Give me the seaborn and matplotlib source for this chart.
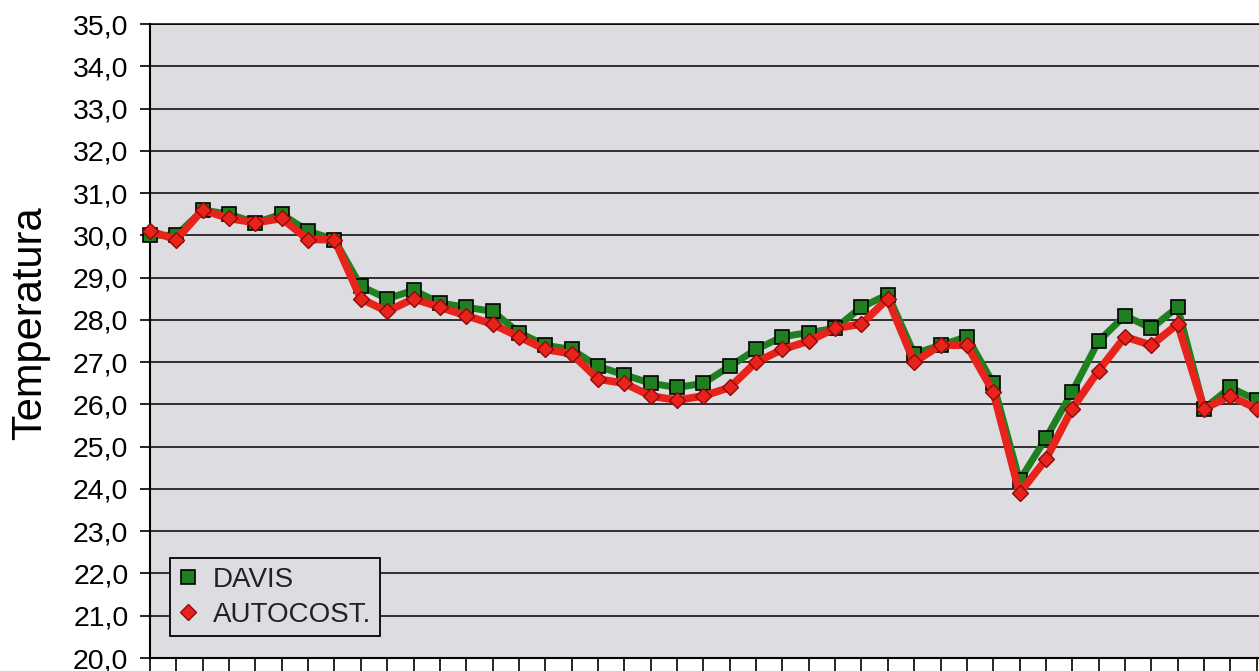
import matplotlib
matplotlib.use("Agg")
import matplotlib.pyplot as plt
import seaborn as sns
import pandas as pd
from matplotlib.ticker import FuncFormatter, MultipleLocator
from matplotlib.lines import Line2D

# ---- data ----
points = list(range(43))
series_names = ["DAVIS", "AUTOCOST."]
davis = [30.0, 30.0, 30.6, 30.5, 30.3, 30.5, 30.1, 29.9, 28.8, 28.5,
         28.7, 28.4, 28.3, 28.2, 27.7, 27.4, 27.3, 26.9, 26.7, 26.5,
         26.4, 26.5, 26.9, 27.3, 27.6, 27.7, 27.8, 28.3, 28.6, 27.2,
         27.4, 27.6, 26.5, 24.2, 25.2, 26.3, 27.5, 28.1, 27.8, 28.3,
         25.9, 26.4, 26.1]
autocost = [30.1, 29.9, 30.6, 30.4, 30.3, 30.4, 29.9, 29.9, 28.5, 28.2,
            28.5, 28.3, 28.1, 27.9, 27.6, 27.3, 27.2, 26.6, 26.5, 26.2,
            26.1, 26.2, 26.4, 27.0, 27.3, 27.5, 27.8, 27.9, 28.5, 27.0,
            27.4, 27.4, 26.3, 23.9, 24.7, 25.9, 26.8, 27.6, 27.4, 27.9,
            25.9, 26.2, 25.9]
y_min, y_max = 20, 35
y_label = "Temperatura"

# ---- style ----
bg = "#dddde1"
green = "#1f8020"
red = "#e8231b"
darkred = "#8c0a0a"

sns.set_theme(style="white")
plt.rcParams["font.family"] = ["Liberation Sans", "DejaVu Sans"]

W, H = 1259, 671
fig = plt.figure(figsize=(W / 100, H / 100), dpi=100)
fig.patch.set_facecolor("white")
ax = fig.add_axes([150 / W, 13 / H, 1 - 150 / W, 634 / H])
ax.set_facecolor(bg)

df = pd.DataFrame({"x": points, "davis": davis, "auto": autocost})

sns.lineplot(data=df, x="x", y="davis", ax=ax, color=green, linewidth=5,
             marker="s", markersize=10.5, markerfacecolor=green,
             markeredgecolor="black", markeredgewidth=1.2,
             clip_on=False, zorder=3)
sns.lineplot(data=df, x="x", y="auto", ax=ax, color=red, linewidth=5.5,
             marker="D", markersize=8, markerfacecolor=red,
             markeredgecolor=darkred, markeredgewidth=1.0,
             clip_on=False, zorder=4)

ax.set_xlim(0, (W - 150) / 26.35)
ax.set_ylim(y_min, y_max)
ax.yaxis.set_major_locator(MultipleLocator(1))
ax.xaxis.set_major_locator(MultipleLocator(1))
ax.yaxis.set_major_formatter(FuncFormatter(lambda v, p: f"{v:.1f}".replace(".", ",")))
ax.set_xlabel("")
ax.tick_params(axis="x", bottom=True, direction="out", length=9, width=1.2,
               color="black", labelbottom=False)
ax.tick_params(axis="y", left=True, direction="out", length=7.5, width=1.2,
               color="black", pad=8, labelsize=20.5, labelcolor="black")

ax.grid(axis="y", color="black", linewidth=1.1)
ax.grid(axis="x", visible=False)
ax.set_axisbelow(True)

for side in ["left", "bottom"]:
    ax.spines[side].set_color("black")
    ax.spines[side].set_linewidth(1.5)
ax.spines["top"].set_color("black")
ax.spines["top"].set_linewidth(1.1)
ax.spines["right"].set_visible(False)

ax.set_ylabel(y_label, fontsize=30, color="black")
ax.yaxis.set_label_coords(-0.09, 0.528)

handles = [
    Line2D([], [], linestyle="None", marker="s", markersize=10,
           markerfacecolor=green, markeredgecolor="black", markeredgewidth=1.2),
    Line2D([], [], linestyle="None", marker="D", markersize=8,
           markerfacecolor=red, markeredgecolor=darkred, markeredgewidth=1.0),
]
leg = ax.legend(handles, series_names, loc="lower left",
                bbox_to_anchor=(20 / 1109, 22 / 634), borderaxespad=0,
                fontsize=20, frameon=True, fancybox=False, edgecolor="black",
                facecolor=bg, framealpha=1, borderpad=0.3, handlelength=0.7,
                handletextpad=0.55, labelspacing=0.32)
leg.get_frame().set_linewidth(1.3)
for t in leg.get_texts():
    t.set_color("#222222")

fig.savefig("out.png", dpi=100)
